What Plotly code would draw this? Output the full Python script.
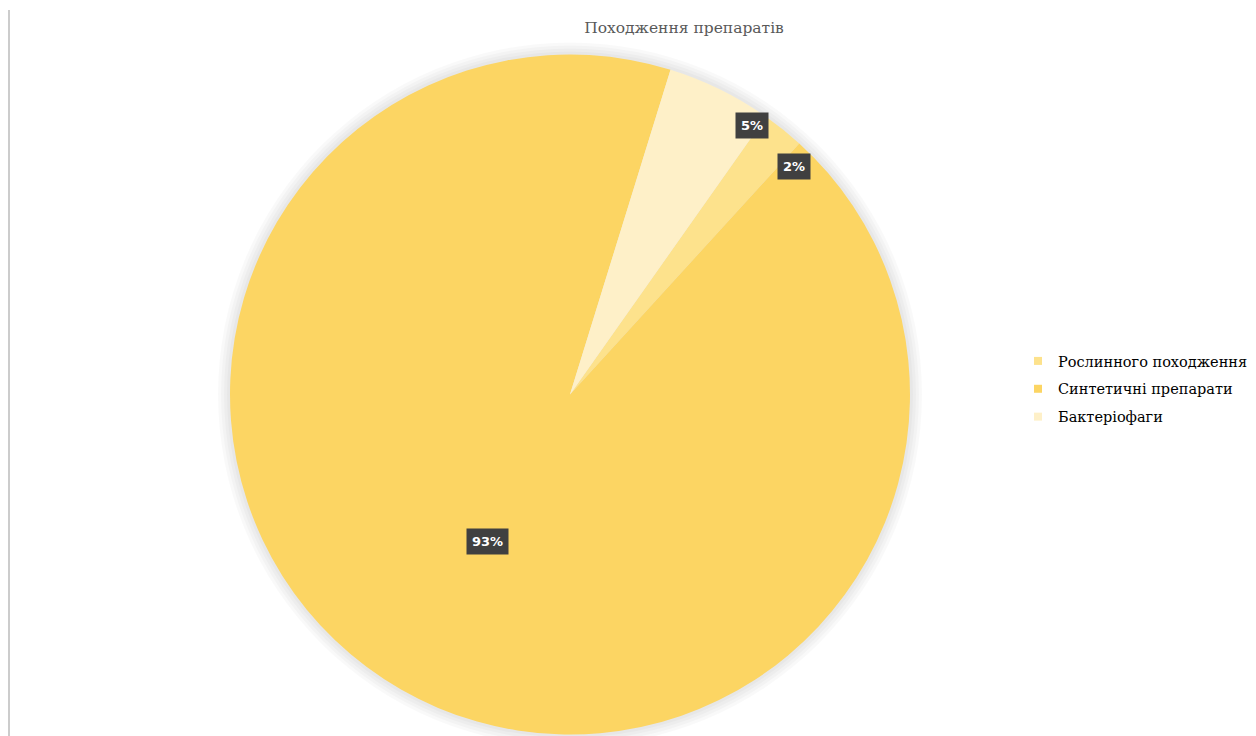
import math
import plotly.graph_objects as go

# ---- data ----
categories = ["Рослинного походження", "Синтетичні препарати", "Бактеріофаги"]
values = [2, 93, 5]
colors = ["#FDE28C", "#FCD563", "#FEF0C8"]
title_text = "Походження препаратів"

# ---- layout parameters (figure pixels) ----
W, H = 1248, 728
cx, cy, R = 562.0, 386.5, 340.0    # pixel centre & radius of the pie
rotation = 35.2                    # start angle of first slice (clockwise from 12 o'clock)

# per-label placement style (radius fraction, angular offset in degrees)
label_style = [(0.94, 5.6), (0.495, -0.6), (0.955, 7.9)]

total = sum(values)
fig = go.Figure()

fig.add_trace(go.Pie(
    labels=categories,
    values=values,
    marker=dict(colors=colors, line=dict(width=0)),
    sort=False,
    direction="clockwise",
    rotation=rotation,
    textinfo="none",
    hoverinfo="label+percent",
    domain=dict(x=[(cx - R) / W, (cx + R) / W],
                y=[max(0.0, (H - cy - R) / H), min(1.0, (H - cy + R) / H)]),
    showlegend=False,
))

# legend entries (one per category)
for i, (name, col) in enumerate(zip(categories, colors)):
    fig.add_trace(go.Scatter(
        x=[None], y=[None], mode="markers", name=name,
        marker=dict(symbol="square", size=8, color=col),
        legendgroup="g%d" % i, showlegend=True, hoverinfo="skip",
    ))

# data labels computed from the values
cum = 0.0
annotations = []
for v, (rf, off) in zip(values, label_style):
    a0 = rotation + cum / total * 360
    cum += v
    a1 = rotation + cum / total * 360
    mid = math.radians((a0 + a1) / 2 + off)
    px = cx + rf * R * math.sin(mid)
    py = cy - rf * R * math.cos(mid)
    annotations.append(dict(
        x=px / W, y=1 - py / H, xref="paper", yref="paper",
        text="<b>%d%%</b>" % round(v / total * 100),
        showarrow=False,
        font=dict(family="DejaVu Sans", size=13, color="white"),
        bgcolor="#404040", borderpad=5,
        xanchor="center", yanchor="middle",
    ))

# soft shadow halo (circles below the pie)
shapes = []
for dr in [12, 9, 6, 3]:
    r = R + dr
    shapes.append(dict(type="circle", xref="paper", yref="paper", layer="below",
                       x0=(cx - r) / W, x1=(cx + r) / W,
                       y0=(H - cy - r) / H, y1=(H - cy + r) / H,
                       fillcolor="rgba(0,0,0,0.022)", line=dict(width=0)))
shapes.append(dict(type="line", xref="paper", yref="paper",
                   x0=1 / W, x1=1 / W, y0=0, y1=1 - 2 / H,
                   line=dict(color="#BBBBBB", width=1.5)))

fig.update_layout(
    width=W, height=H,
    margin=dict(l=0, r=0, t=0, b=0),
    paper_bgcolor="white",
    plot_bgcolor="rgba(0,0,0,0)",
    xaxis=dict(visible=False),
    yaxis=dict(visible=False),
    title=dict(text=title_text, x=676 / W, y=1 - 20 / H, xref="paper", yref="container",
               xanchor="center", yanchor="middle",
               font=dict(family="DejaVu Serif", size=15.5, color="#595959")),
    legend=dict(x=1010 / W, y=1 - 381 / H, xanchor="left", yanchor="middle",
                font=dict(family="DejaVu Serif", size=14.5, color="#000000"),
                bgcolor="rgba(0,0,0,0)", traceorder="grouped", tracegroupgap=6,
                itemwidth=30),
    annotations=annotations,
    shapes=shapes,
)

fig.write_html("out.html")
